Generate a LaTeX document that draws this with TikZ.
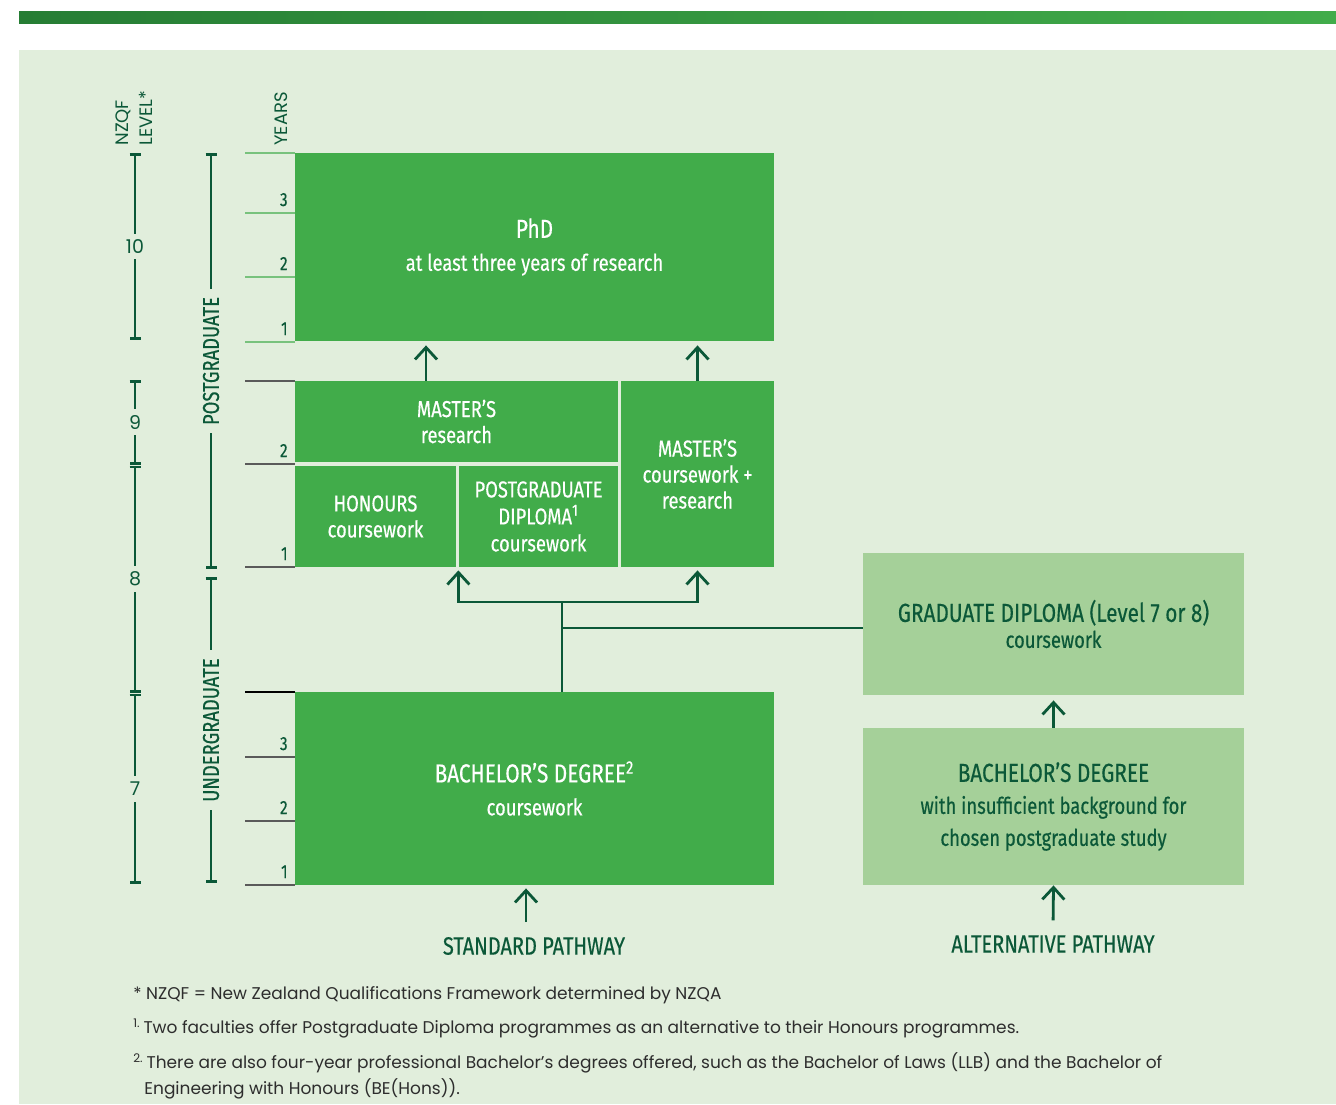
\documentclass[tikz,border=0pt]{standalone}
\usepackage{fontspec}
\setmainfont{Poppins}
\newfontfamily\condfont[FakeStretch=0.8,FakeBold=0.4]{Fira Sans}
\usetikzlibrary{arrows.meta,calc}
\definecolor{boxgreen}{RGB}{65,172,74}
\definecolor{palegreen}{RGB}{165,208,153}
\definecolor{panel}{RGB}{225,238,220}
\definecolor{darkgreen}{RGB}{11,88,56}
\definecolor{bardark}{RGB}{38,125,52}
\definecolor{ticklight}{RGB}{120,194,125}
\definecolor{tickgrey}{RGB}{90,90,90}
\definecolor{notegrey}{RGB}{45,45,45}

\begin{document}
\begin{tikzpicture}[x=0.5pt,y=-0.5pt,
  box/.style={fill=boxgreen,inner sep=0pt,text=white,align=center,
    font=\condfont\fontsize{11.5}{13}\selectfont},
  altbox/.style={box,fill=palegreen,text=darkgreen},
  wh/.style 2 args={minimum width={#1*0.5pt},minimum height={#2*0.5pt}},
  scaleline/.style={darkgreen,line width=1.4pt,{Bar[width=5.5pt]}-{Bar[width=5.5pt]}},
  gap/.style={fill=panel,inner sep=3pt,text=darkgreen},
  yr/.style={anchor=base east,inner sep=0pt,text=darkgreen,font=\condfont\fontsize{9.5}{11}\selectfont},
  tick/.style={line width=0.7pt},
  arr/.style={darkgreen,line width=1.4pt,-{Straight Barb[length=6pt,width=11pt]}},
  link/.style={darkgreen,line width=1.4pt},
  path label/.style={text=darkgreen,font=\condfont\fontsize{12.5}{14}\selectfont},
  note/.style={anchor=base west,inner sep=0pt,text=notegrey,align=left,
    font=\fontsize{8.5}{13}\selectfont}]
\useasboundingbox (0,0) rectangle (1336,1104);
% top bar and panel
\shade[left color=bardark,middle color=boxgreen!95!bardark,right color=boxgreen] (19,11) rectangle (1336,23);
\fill[panel] (19,50) rectangle (1336,1104);

% axis titles
\node[rotate=90,anchor=west,inner sep=0pt,align=left,text=darkgreen,
  font=\fontsize{9}{12}\selectfont] (nzqf) at (134,146) {NZQF\\LEVEL*};
\node[rotate=90,anchor=west,inner sep=0pt,text=darkgreen,
  font=\fontsize{9}{12}\selectfont] (years) at (281,146) {YEARS};

% NZQF levels
\draw[scaleline] (135,153) -- node[gap,font=\fontsize{9.5}{11}\selectfont]{10} (135,340);
\draw[scaleline] (135,380) -- node[gap,font=\fontsize{9.5}{11}\selectfont]{9} (135,464.5);
\draw[scaleline] (135,465.5) -- node[gap,font=\fontsize{9.5}{11}\selectfont]{8} (135,692.5);
\draw[scaleline] (135,693.5) -- node[gap,font=\fontsize{9.5}{11}\selectfont]{7} (135,884);

% postgraduate / undergraduate
\draw[scaleline] (211,153) -- node[gap,rotate=90,inner xsep=4pt,
  font=\condfont\fontsize{11.5}{13}\selectfont]{POSTGRADUATE} (211,569);
\draw[scaleline] (211,577) -- node[gap,rotate=90,inner xsep=4pt,
  font=\condfont\fontsize{11.5}{13}\selectfont]{UNDERGRADUATE} (211,883);

% years
\draw[tick,ticklight] (245,153) -- (295,153);
\foreach \ty/\yr in {213/3,277/2,342/1}{
  \draw[tick,ticklight] (245,\ty) -- (295,\ty);
  \node[yr] at (288,{\ty-7}) {\yr};
}
\draw[tick,tickgrey] (245,381) -- (295,381);
\foreach \ty/\yr in {464/2,567/1}{
  \draw[tick,tickgrey] (245,\ty) -- (295,\ty);
  \node[yr] at (288,{\ty-7}) {\yr};
}
\draw[tick,black] (245,692) -- (295,692);
\foreach \ty/\yr in {757/3,821/2,885/1}{
  \draw[tick,tickgrey] (245,\ty) -- (295,\ty);
  \node[yr] at (288,{\ty-7}) {\yr};
}

% qualifications
\node[box,wh={479}{188}] (phd) at (534.5,247)
  {{\fontsize{13}{14}\selectfont PhD}\\[3.5pt]at least three years of research};
\node[box,wh={323}{81}] (mres) at (456.5,421.5) {MASTER’S\\research};
\node[box,wh={161}{101}] (hon) at (375.5,516.5) {HONOURS\\coursework};
\node[box,wh={159}{101}] (pgd) at (538.5,516.5)
  {POSTGRADUATE\\[0.5pt]DIPLOMA\textsuperscript{1}\\[0.5pt]coursework};
\node[box,wh={153}{186}] (mcw) at (697.5,474) {MASTER’S\\coursework +\\research};
\node[box,wh={479}{193}] (bach) at (534.5,788.5)
  {{\fontsize{13}{15}\selectfont BACHELOR’S DEGREE\textsuperscript{2}}\\[3.5pt]coursework};
\node[altbox,wh={381}{142}] (gdip) at (1053.5,624)
  {{\fontsize{13}{15}\selectfont GRADUATE DIPLOMA (Level 7 or 8)}\\coursework};
\node[altbox,wh={381}{157},font=\condfont\fontsize{11.5}{16}\selectfont] (altb) at (1053.5,806.5)
  {{\fontsize{13}{15}\selectfont BACHELOR’S DEGREE}\\with insufficient background for\\chosen postgraduate study};

\node[path label] (std) at (534,946) {STANDARD PATHWAY};
\node[path label] (alt) at (1053,944) {ALTERNATIVE PATHWAY};

% connectors
\coordinate (up1) at ([xshift=-15.25pt]mres.north);
\draw[arr,shorten >=2pt] (up1) -- (up1 |- phd.south);
\draw[arr,shorten >=2pt] (mcw.north) -- (mcw.north |- phd.south);
\coordinate (split) at (562,602);
\coordinate (join) at (562,628);
\draw[link] (bach.north -| split) -- (split);
\draw[arr,shorten >=1.5pt] (split) -| ([xshift=1pt]hon.south east);
\draw[arr,shorten >=1.5pt] (split) -| (mcw.south);
\draw[link] (join) -- (join -| gdip.west);
\draw[arr,shorten >=2.5pt] (altb.north) -- (gdip.south);
\coordinate (s1) at ([xshift=-4pt]std.north);
\draw[arr,shorten <=4pt,shorten >=1.5pt] (s1) -- (s1 |- bach.south);
\draw[arr,shorten <=4pt] (alt.north) -- (altb.south);

% notes
\node[note] (n1) at (133,999) {* NZQF = New Zealand Qualifications Framework determined by NZQA};
\node[note] (n2) at (133,1033) {\textsuperscript{1.}\,Two faculties offer Postgraduate Diploma programmes as an alternative to their Honours programmes.};
\node[note] (n3) at (133,1094) {\textsuperscript{2.}\,There are also four-year professional Bachelor’s degrees offered, such as the Bachelor of Laws (LLB) and the Bachelor of\\\hspace*{5.5pt}Engineering with Honours (BE(Hons)).};
\end{tikzpicture}
\end{document}
